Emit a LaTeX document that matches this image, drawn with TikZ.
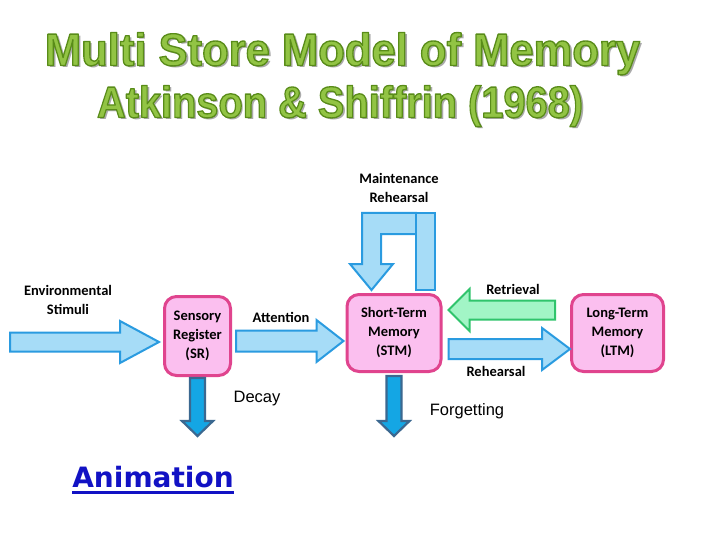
\documentclass[tikz,border=0pt]{standalone}
\usepackage{fontspec}
\setmainfont{Carlito}
\newfontfamily\arialfont{Liberation Sans}
\newfontfamily\verdanafont{DejaVu Sans}
\usepackage{tikz}
\usetikzlibrary{calc, positioning}

\definecolor{boxfill}{HTML}{FBBFEF}
\definecolor{boxline}{HTML}{E0448E}
\definecolor{flowfill}{HTML}{A6DCF7}
\definecolor{flowline}{HTML}{2A9BE0}
\definecolor{backfill}{HTML}{A2F5C6}
\definecolor{backline}{HTML}{30C46C}
\definecolor{lossfill}{HTML}{14A6E4}
\definecolor{lossline}{HTML}{3B6890}
\definecolor{titlefill}{HTML}{92C444}
\definecolor{titleshade}{HTML}{AAAAAA}
\definecolor{linkblue}{HTML}{1212C4}

% fat arrow: style, from, to, body half width, head half width, head length
\newcommand{\fatarrow}[6]{%
  \path (#2) coordinate (fa-s) (#3) coordinate (fa-t);
  \coordinate (fa-hb) at ($(fa-t)!#6pt!(fa-s)$);
  \filldraw[#1] ($(fa-s)!#4pt!90:(fa-t)$) -- ($(fa-hb)!#4pt!90:(fa-t)$)
    -- ($(fa-hb)!#5pt!90:(fa-t)$) -- (fa-t) -- ($(fa-hb)!#5pt!-90:(fa-t)$)
    -- ($(fa-hb)!#4pt!-90:(fa-t)$) -- ($(fa-s)!#4pt!-90:(fa-t)$) -- cycle;}

% green text with a dark green edge (fill and stroke)
\newcommand{\edgetext}[1]{{\color{titlefill}%
  \special{pdf:code 0.35 0.55 0.10 RG 2 Tr 0.3 w 1 j}#1\special{pdf:code 0 Tr}}}

\begin{document}
\begin{tikzpicture}[x=1pt, y=-1pt, auto]
\tikzstyle{state} = [rectangle, draw=boxline, fill=boxfill, line width=3pt, rounded corners=12pt, align=center, font=\bfseries\fontsize{14.5}{19}\selectfont, inner sep=0pt]
\tikzstyle{lbl} = [align=center, font=\bfseries\fontsize{14.5}{19}\selectfont, inner sep=0pt]
\tikzstyle{plain} = [font=\arialfont\fontsize{16.5}{20}\selectfont, inner sep=0pt]
\tikzstyle{titlestyle} = [anchor=base, inner sep=0pt, font=\arialfont\bfseries]
\tikzstyle{flow} = [fill=flowfill, draw=flowline, line width=2pt, line join=miter]
\tikzstyle{back} = [fill=backfill, draw=backline, line width=2pt, line join=miter]
\tikzstyle{loss} = [fill=lossfill, draw=lossline, line width=2.2pt, line join=miter]

\useasboundingbox[fill=white] (0,0) rectangle (720,540);

% title
\node[titlestyle, text=titleshade] (shade1) at (345,68) {\resizebox{595pt}{33pt}{Multi Store Model of Memory}};
\node[titlestyle] (title1) at (342.5,65.5) {\resizebox{595pt}{33pt}{\edgetext{Multi Store Model of Memory}}};
\node[titlestyle, text=titleshade] (shade2) at (342.5,120) {\resizebox{486pt}{32pt}{Atkinson \& Shiffrin (1968)}};
\node[titlestyle] (title2) at (340,117.5) {\resizebox{486pt}{32pt}{\edgetext{Atkinson \& Shiffrin (1968)}}};

% stores
\node[state, minimum width=66pt, minimum height=79pt] (sr) at (197.5,336) {Sensory\\Register\\(SR)};
\node[state, minimum width=94pt, minimum height=77pt] (stm) at (394,333) {Short-Term\\Memory\\(STM)};
\node[state, minimum width=92pt, minimum height=77pt, right of=stm, node distance=223.5pt] (ltm) {Long-Term\\Memory\\(LTM)};

% arrows between stores
\coordinate (input) at (10,342);
\fatarrow{flow}{input}{[shift={(-4,6)}]sr.west}{9.5}{21}{39}
\fatarrow{flow}{[shift={(4,5)}]sr.east}{[shift={(-2,8)}]stm.west}{10.5}{21}{27}
\fatarrow{back}{[shift={(-15,-23)}]ltm.west}{[shift={(6,-23)}]stm.east}{9.5}{21}{21}
\fatarrow{flow}{[shift={(6,16)}]stm.east}{[shift={(0,16)}]ltm.west}{10}{21}{28}
\fatarrow{loss}{[shift={(0,1)}]sr.south}{[shift={(0,59)}]sr.south}{7.5}{15.5}{15}
\fatarrow{loss}{[shift={(0,3)}]stm.south}{[shift={(0,63)}]stm.south}{7.5}{15.5}{15}

% maintenance loop
\begin{scope}[shift={(stm.north)}]
\filldraw[flow] (22,-80) -- (-32,-80) -- (-32,-29) -- (-44,-29) -- (-22.5,-3)
  -- (-1,-29) -- (-13,-29) -- (-13,-59) -- (22,-59) -- cycle;
\filldraw[flow] (22,-80) rectangle (41,-3);
\end{scope}

% labels
\node[lbl] (envlbl) at (68,299.5) {Environmental\\Stimuli};
\node[lbl] (attlbl) at (281,317) {Attention};
\node[lbl] (mntlbl) at (399,187.5) {Maintenance\\Rehearsal};
\node[lbl] (retlbl) at (513,289) {Retrieval};
\node[lbl] (rehlbl) at (496,371) {Rehearsal};
\node[plain] (declbl) at (257,399) {Decay};
\node[plain] (forlbl) at (467,411) {Forgetting};

% link
\node[anchor=base, inner sep=0pt, text=linkblue, font=\verdanafont\bfseries\fontsize{28}{30}\selectfont] (anim) at (153,487) {Animation};
\draw[linkblue, line width=3pt] ([shift={(0,5)}]anim.base west) -- ([shift={(0,5)}]anim.base east);
\end{tikzpicture}
\end{document}
